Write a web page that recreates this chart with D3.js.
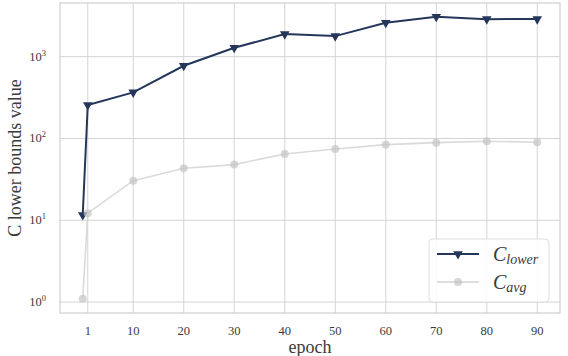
<!DOCTYPE html>
<html>
<head>
<meta charset="utf-8">
<script src="https://cdn.jsdelivr.net/npm/d3@7"></script>
<style>
  body { margin: 0; background: #fff; }
  svg text { font-family: "Liberation Serif", "DejaVu Serif", serif; fill: #3a3a3a; }
</style>
</head>
<body>
<div id="chart"></div>
<script>
const epochs = [0, 1, 10, 20, 30, 40, 50, 60, 70, 80, 90];
const cLower = [11.6, 256, 366, 774, 1285, 1888, 1784, 2594, 3070, 2877, 2880];
const cAvg = [1.10, 12.2, 30.5, 43.3, 47.9, 64.7, 74.5, 84, 88.9, 92.5, 89.9];
const xTicks = [1, 10, 20, 30, 40, 50, 60, 70, 80, 90];
const yTicks = [0, 1, 2, 3];

const width = 568, height = 356;
const margin = {left: 60, right: 8, top: 3, bottom: 43};

const svg = d3.select('#chart').append('svg')
    .attr('width', width).attr('height', height);

const x = d3.scaleLinear().domain([-4.5, 94.5]).range([margin.left, width - margin.right]);
const y = d3.scaleLog().domain([0.735, 4530]).range([height - margin.bottom, margin.top]);

const grid = svg.append('g').attr('stroke', '#d4d4d4').attr('stroke-width', 1);
grid.selectAll('.gx').data(xTicks).enter().append('line')
    .attr('x1', d => x(d)).attr('x2', d => x(d))
    .attr('y1', margin.top).attr('y2', height - margin.bottom);
grid.selectAll('.gy').data(yTicks).enter().append('line')
    .attr('y1', d => y(Math.pow(10, d))).attr('y2', d => y(Math.pow(10, d)))
    .attr('x1', margin.left).attr('x2', width - margin.right);

// frame
svg.append('rect')
    .attr('x', margin.left).attr('y', margin.top)
    .attr('width', width - margin.left - margin.right)
    .attr('height', height - margin.top - margin.bottom)
    .attr('fill', 'none').attr('stroke', '#cfcfcf').attr('stroke-width', 1.2);

// x tick labels
svg.append('g').selectAll('text').data(xTicks).enter().append('text')
    .attr('x', d => x(d)).attr('y', 335)
    .attr('text-anchor', 'middle').attr('font-size', 12.5)
    .text(d => d);

// y tick labels 10^n
const yl = svg.append('g').selectAll('text').data(yTicks).enter().append('text')
    .attr('x', 46).attr('y', d => y(Math.pow(10, d)) + 4)
    .attr('text-anchor', 'end').attr('font-size', 12.5);
yl.append('tspan').text('10');
yl.append('tspan').attr('font-size', 8.5).attr('dy', -5).text(d => d);

svg.append('text')
    .attr('x', x(45)).attr('y', 353)
    .attr('text-anchor', 'middle').attr('font-size', 18)
    .text('epoch');

svg.append('text')
    .attr('transform', `translate(21,${(margin.top + height - margin.bottom) / 2}) rotate(-90)`)
    .attr('text-anchor', 'middle').attr('font-size', 18)
    .text('C lower bounds value');

const navy = '#24375a';
const lineGen = vals => d3.line().x((d, i) => x(epochs[i])).y(d => y(d))(vals);
const tri = d3.symbol().type(d3.symbolTriangle).size(40);

svg.append('path').attr('d', lineGen(cLower))
    .attr('fill', 'none').attr('stroke', navy).attr('stroke-width', 2);
svg.append('g').selectAll('path').data(cLower).enter().append('path')
    .attr('d', tri)
    .attr('transform', (d, i) => `translate(${x(epochs[i])},${y(d)}) rotate(180)`)
    .attr('fill', navy);

svg.append('path').attr('d', lineGen(cAvg))
    .attr('fill', 'none').attr('stroke', '#d3d3d3').attr('stroke-width', 1.6).attr('opacity', 0.85);
svg.append('g').selectAll('circle').data(cAvg).enter().append('circle')
    .attr('cx', (d, i) => x(epochs[i])).attr('cy', d => y(d)).attr('r', 4)
    .attr('fill', '#c4c4c4').attr('opacity', 0.7);

// legend
const lg = svg.append('g');
lg.append('rect').attr('x', 429).attr('y', 239).attr('width', 120).attr('height', 63)
    .attr('rx', 4).attr('fill', '#fff').attr('fill-opacity', 0.85)
    .attr('stroke', '#dedede').attr('stroke-width', 1);
lg.append('line').attr('x1', 437).attr('x2', 479).attr('y1', 254).attr('y2', 254)
    .attr('stroke', navy).attr('stroke-width', 2);
lg.append('path').attr('d', tri).attr('transform', 'translate(458,254) rotate(180)').attr('fill', navy);
lg.append('line').attr('x1', 437).attr('x2', 479).attr('y1', 282).attr('y2', 282)
    .attr('stroke', '#d3d3d3').attr('stroke-width', 1.6);
lg.append('circle').attr('cx', 458).attr('cy', 282).attr('r', 4).attr('fill', '#c4c4c4').attr('opacity', 0.7);

const labels = [['lower', 261], ['avg', 289]];
labels.forEach(([sub, yy]) => {
  const t = lg.append('text').attr('x', 493).attr('y', yy)
      .attr('font-size', 20).attr('font-style', 'italic');
  t.append('tspan').text('C');
  t.append('tspan').attr('font-size', 14).attr('dy', 3).text(sub);
});
</script>
</body>
</html>
